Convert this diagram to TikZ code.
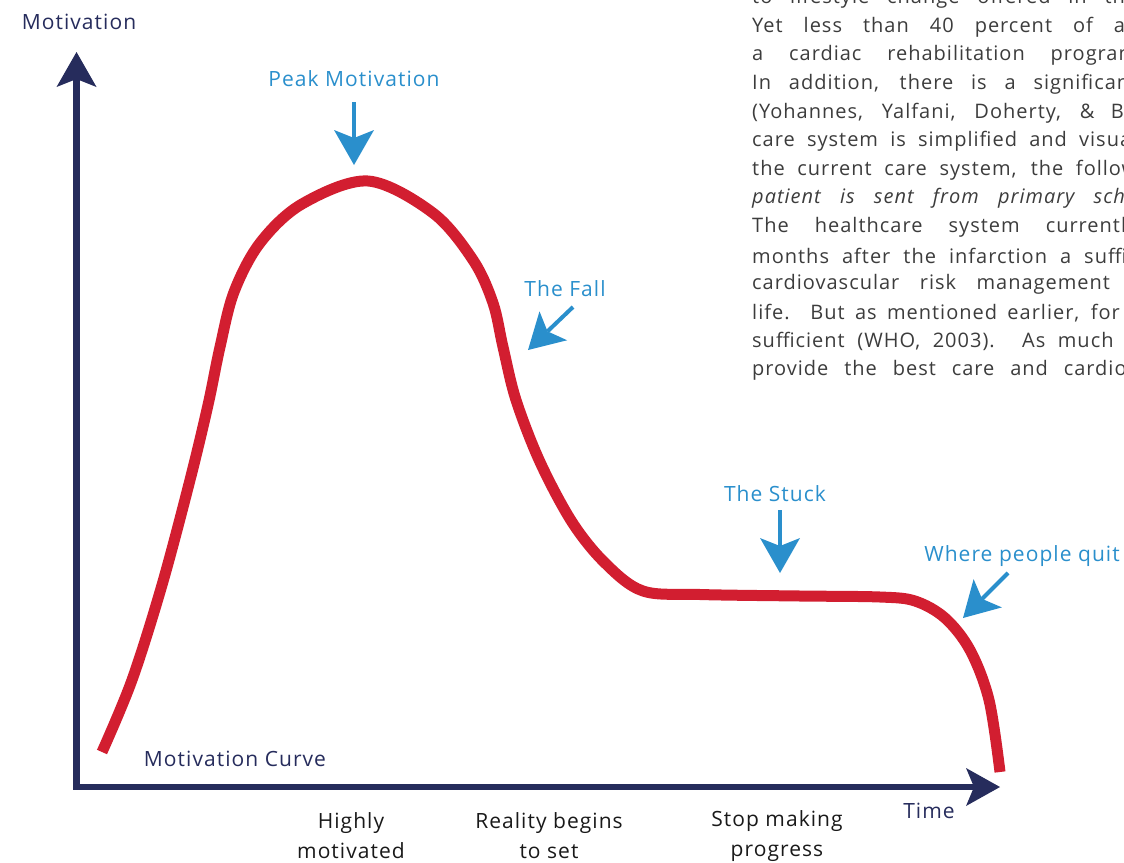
\documentclass[tikz,border=0pt]{standalone}
\usepackage{fontspec}
\setmainfont{Open Sans}[LetterSpace=5]
\usetikzlibrary{arrows.meta}
\definecolor{navy}{HTML}{262C5C}
\definecolor{skyblue}{HTML}{2A8FCC}
\definecolor{curvered}{HTML}{D21E30}
\definecolor{bodygray}{HTML}{3C3C3C}
\begin{document}
\begin{tikzpicture}[x=1pt,y=-1pt,
  axis/.style={draw=navy,line width=6.5pt,line join=miter,
    {Stealth[length=35pt,width=40pt,inset=8pt,line width=0pt]}-{Stealth[length=34pt,width=38pt,inset=8pt,line width=0pt]}},
  curve/.style={draw=curvered,line width=11pt},
  pointer/.style={color=skyblue,line width=4pt,-{Stealth[length=35pt,width=40pt,inset=8pt,line width=0pt]}},
  blue label/.style={text=skyblue,font=\fontsize{21}{24}\selectfont,inner sep=0pt},
  axis label/.style={text=navy,font=\fontsize{21}{24}\selectfont,inner sep=0pt},
  stage/.style={text=black!90,align=center,font=\fontsize{21}{30}\selectfont,inner sep=0pt},
  body/.style={text=bodygray,anchor=west,font=\fontsize{20}{24}\selectfont,inner sep=0pt}]

  \path[use as bounding box,clip] (0,0) rectangle (1124,862);

  \foreach \t [count=\i from 0] in {{to lifestyle change offered in the},
    {Yet less than 40 percent of all},{a cardiac rehabilitation program},
    {In addition, there is a significant},{(Yohannes, Yalfani, Doherty, \& Bu},
    {care system is simplified and visual},{the current care system, the follow},
    {\itshape patient is sent from primary scho},{The healthcare system currently},
    {months after the infarction a suffic},{cardiovascular risk management f},
    {life. But as mentioned earlier, for t},{sufficient (WHO, 2003). As much a},
    {provide the best care and cardiov}}
    \node[body] (body\i) at (752,{-1.6+28.6*\i}) {\makebox[385pt][s]{\t}};

  \coordinate (O) at (76.5,787);
  \coordinate (ytip) at (76.5,52);
  \coordinate (xtip) at (1000,787);
  \draw[axis] (ytip) -- (O) -- (xtip);

  \draw[curve] plot[smooth,tension=0.55] coordinates {(102,752) (132,680)
    (162,585) (190,480) (208,405) (220,347) (234,292) (260,243) (302,204)
    (368,181) (433,213) (473,260) (493,303) (503,347) (516,400) (540,462)
    (572,522) (605,563) (643,591) (700,594.5) (800,596) (880,597)
    (915,601) (945,618) (970,650) (989,700) (1000,772)};

  \node[axis label] (mot) at (79,22) {Motivation};
  \node[axis label] (mcurve) at (235,759) {Motivation Curve};
  \node[axis label] (time) at (929,811) {Time};

  \node[blue label] (peak) at (354,79) {Peak Motivation};
  \node[blue label] (fall) at (565,289) {The Fall};
  \node[blue label] (stuck) at (775,494) {The Stuck};
  \node[blue label] (quit) at (1022,556) {Where people quit};

  \coordinate (peak1) at (354,102);  \coordinate (peak2) at (354,165);
  \coordinate (fall1) at (573,307);  \coordinate (fall2) at (528,350);
  \coordinate (stuck1) at (780,510); \coordinate (stuck2) at (780,573);
  \coordinate (quit1) at (1008,573); \coordinate (quit2) at (963,618);
  \path[pointer]
   (peak1) edge (peak2)
   (fall1) edge (fall2)
   (stuck1) edge (stuck2)
   (quit1) edge (quit2);

  \node[stage] (high) at (351,836) {Highly\\motivated};
  \node[stage] (real) at (549,836) {Reality begins\\to set};
  \node[stage] (stop) at (777,836) {Stop making\\progress};
\end{tikzpicture}
\end{document}
